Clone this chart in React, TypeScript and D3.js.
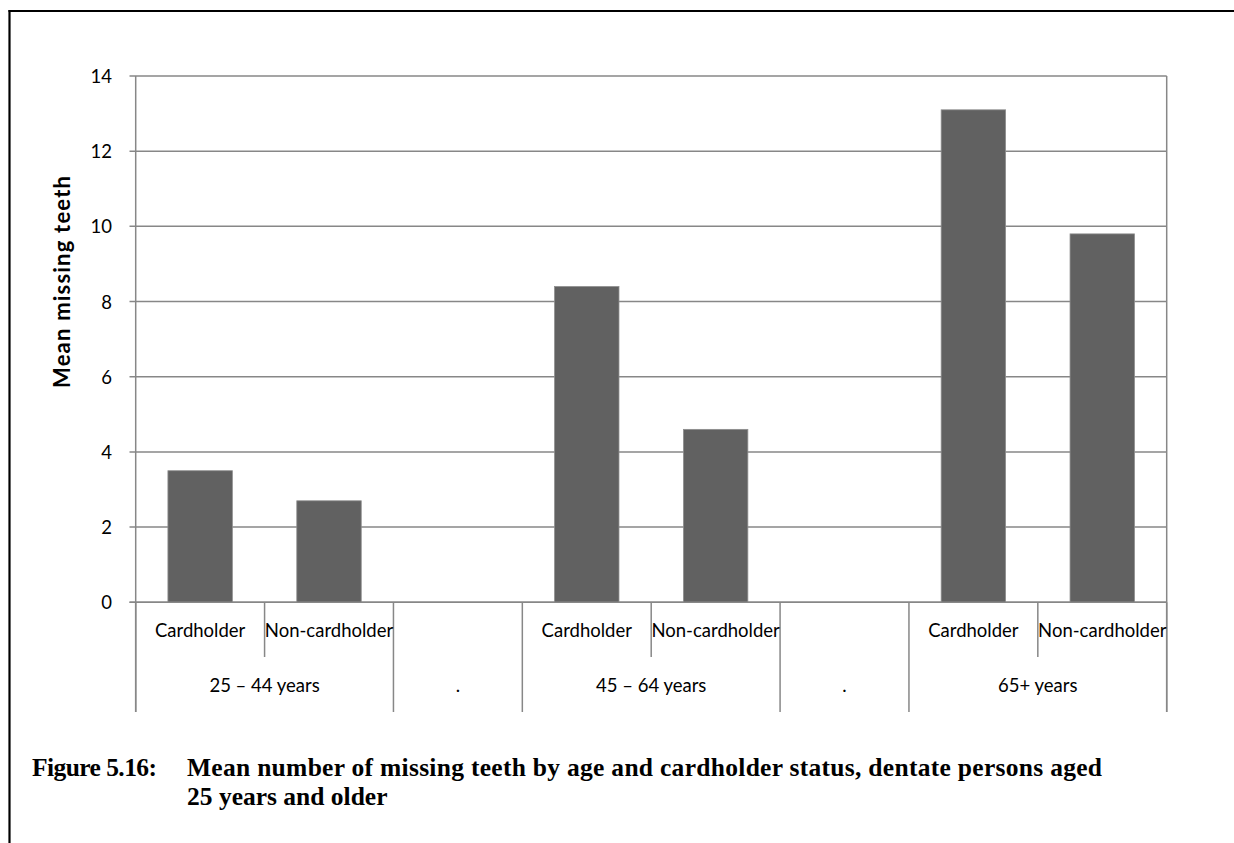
import React from "react";
import * as d3 from "d3";

const categories = ["Cardholder", "Non-cardholder", "", "Cardholder", "Non-cardholder", "", "Cardholder", "Non-cardholder"];
const values: (number | null)[] = [3.5, 2.7, null, 8.4, 4.6, null, 13.1, 9.8];
const groupLabels = ["25 – 44 years", ".", "45 – 64 years", ".", "65+ years"];
const groupSpans = [2, 1, 2, 1, 2];
const yTicks = [0, 2, 4, 6, 8, 10, 12, 14];
const yTitle = "Mean missing teeth";
const captionLabel = "Figure 5.16:";
const captionLines = [
  "Mean number of missing teeth by age and cardholder status, dentate persons aged",
  "25 years and older",
];

const W = 1234;
const H = 843;
const X0 = 135.7;
const X1 = 1166.7;
const Y0 = 602.3;
const YTOP = 76;
const SEP1 = 657;
const SEP2 = 712;
const GRID = "#878787";
const SANS = "Lato, 'Open Sans', sans-serif";
const SERIF = "'Liberation Serif', 'DejaVu Serif', serif";

export default function App() {
  const idx = categories.map((_, i) => String(i));
  const cell = d3.scaleBand<string>().domain(idx).range([X0, X1]).padding(0);
  const bar = d3.scaleBand<string>().domain(idx).range([X0, X1]).paddingInner(0.5).paddingOuter(0.25);
  const y = d3.scaleLinear().domain([0, 14]).range([Y0, YTOP]);
  const step = cell.step();

  const groupStarts: number[] = [];
  let acc = 0;
  groupSpans.forEach((s) => {
    groupStarts.push(acc);
    acc += s;
  });
  const groupBoundarySet = new Set<number>([...groupStarts, categories.length]);

  const seps = d3.range(0, categories.length + 1).map((i) => ({
    x: X0 + i * step,
    full: groupBoundarySet.has(i),
  }));

  return (
    <svg
      width={W}
      height={H}
      style={{ position: "absolute", left: 0, top: 0, background: "#fff" }}
    >
      <rect x={0} y={0} width={W} height={H} fill="#fff" />
      {/* outer frame */}
      <line x1={8.5} x2={W} y1={11} y2={11} stroke="#000" strokeWidth={2.2} />
      <line x1={9.5} x2={9.5} y1={10} y2={H} stroke="#000" strokeWidth={2.2} />

      {/* gridlines + ticks */}
      {yTicks.map((t) => (
        <g key={t}>
          <line x1={129.5} x2={X1} y1={y(t)} y2={y(t)} stroke={GRID} strokeWidth={1.5} />
          <text
            x={112}
            y={y(t)}
            textAnchor="end"
            dominantBaseline="central"
            fontFamily={SANS}
            fontSize={18.5}
            fill="#000"
          >
            {t}
          </text>
        </g>
      ))}

      {/* bars */}
      {values.map((v, i) =>
        v == null ? null : (
          <rect
            key={i}
            x={bar(String(i))}
            y={y(v)}
            width={bar.bandwidth()}
            height={Y0 - y(v)}
            fill="#616161"
            stroke="#8e8e8e"
            strokeWidth={0.8}
          />
        )
      )}

      {/* axes */}
      <line x1={X0} x2={X0} y1={YTOP} y2={SEP2} stroke={GRID} strokeWidth={1.5} />
      <line x1={X1} x2={X1} y1={YTOP} y2={SEP2} stroke={GRID} strokeWidth={1.5} />
      <line x1={129.5} x2={X1} y1={Y0} y2={Y0} stroke={GRID} strokeWidth={1.5} />
      {seps.map((s, i) => (
        <line
          key={i}
          x1={s.x}
          x2={s.x}
          y1={Y0}
          y2={s.full ? SEP2 : SEP1}
          stroke={GRID}
          strokeWidth={1.5}
        />
      ))}

      {/* category labels */}
      {categories.map((c, i) => (
        <text
          key={i}
          x={(cell(String(i)) as number) + step / 2}
          y={630}
          textAnchor="middle"
          dominantBaseline="central"
          fontFamily={SANS}
          fontSize={18.5}
          fill="#000"
        >
          {c}
        </text>
      ))}
      {groupLabels.map((g, gi) => (
        <text
          key={gi}
          x={X0 + (groupStarts[gi] + groupSpans[gi] / 2) * step}
          y={685}
          textAnchor="middle"
          dominantBaseline="central"
          fontFamily={SANS}
          fontSize={18.5}
          fill="#000"
        >
          {g}
        </text>
      ))}

      {/* y title */}
      <text
        transform={`translate(61,282) rotate(-90)`}
        textAnchor="middle"
        dominantBaseline="central"
        fontFamily={SANS}
        fontWeight="bold"
        fontSize={22}
        fill="#000"
        textLength={212}
        lengthAdjust="spacing"
      >
        {yTitle}
      </text>

      {/* caption */}
      <text x={32} y={776} fontFamily={SERIF} fontWeight="bold" fontSize={25.5} fill="#000"
        textLength={125} lengthAdjust="spacing">
        {captionLabel}
      </text>
      {captionLines.map((l, i) => (
        <text
          key={i}
          x={187}
          y={776 + i * 29}
          fontFamily={SERIF}
          fontWeight="bold"
          fontSize={25.5}
          fill="#000"
          textLength={i === 0 ? 915 : undefined}
          lengthAdjust="spacing"
        >
          {l}
        </text>
      ))}
    </svg>
  );
}
